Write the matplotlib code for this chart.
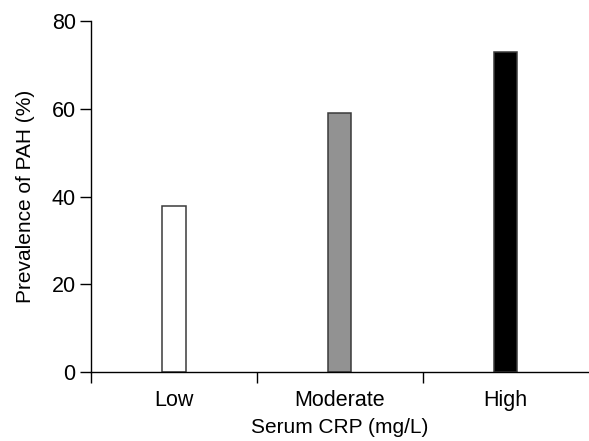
import matplotlib
matplotlib.use("Agg")
import matplotlib.pyplot as plt

# prevalence of PAH by serum CRP level
categories = ["Low", "Moderate", "High"]
prevalence = [37.8, 59.0, 72.9]
fills = ["white", "#929292", "black"]

plt.rcParams["font.family"] = ["Liberation Sans", "DejaVu Sans"]

fig = plt.figure(figsize=(5.89, 4.41), dpi=100)
ax = fig.add_axes([0.1545, 0.1565, 0.845, 0.7955])

pos = range(len(categories))
ax.bar(pos, prevalence, width=0.14, color=fills, edgecolor="#3a3a3a",
       linewidth=1.1)

ax.set_xlim(-0.5, 2.5)
ax.set_ylim(0, 80)
ax.set_yticks([0, 20, 40, 60, 80])
ax.set_xticks([-0.5, 0.5, 1.5])
ax.set_xticklabels([])
ax.set_xticks(list(pos), minor=True)
ax.set_xticklabels(categories, minor=True)
ax.tick_params(axis="x", which="minor", length=0, pad=13, labelsize=15.5)
ax.tick_params(axis="x", which="major", direction="out", length=8, width=1)
ax.tick_params(axis="y", direction="out", length=8, width=1, pad=3,
               labelsize=15.5)

for side in ["top", "right"]:
    ax.spines[side].set_visible(False)
ax.spines["left"].set_linewidth(1)
ax.spines["bottom"].set_linewidth(1)

ax.set_ylabel("Prevalence of PAH (%)", fontsize=15, labelpad=12)
ax.set_xlabel("Serum CRP (mg/L)", fontsize=15, labelpad=5)

fig.savefig("out.png", dpi=100)
